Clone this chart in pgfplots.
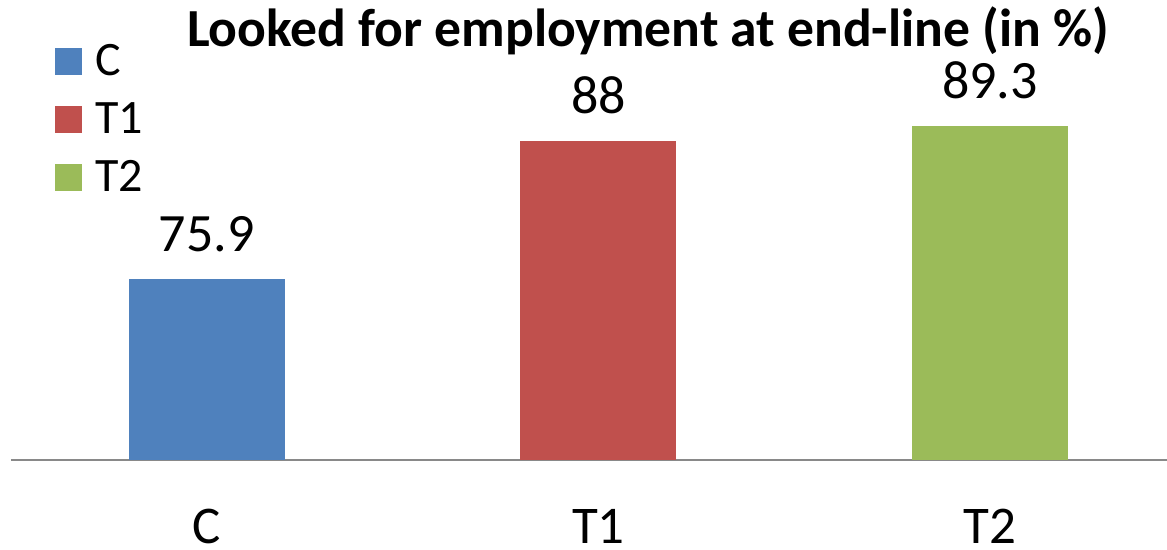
\documentclass[border=0pt]{standalone}
\usepackage{fontspec}
\setmainfont{Carlito}
\usepackage{pgfplots}
\pgfplotsset{compat=1.18}
\definecolor{cC}{HTML}{4F81BD}
\definecolor{cT}{HTML}{C0504D}
\definecolor{cU}{HTML}{9BBB59}
\definecolor{axgray}{HTML}{898989}
\begin{document}
\begin{tikzpicture}
\begin{axis}[
  at={(5.5pt,45pt)}, anchor=south west,
  scale only axis, width=578pt, height=228pt,
  xmin=-0.5, xmax=2.452, ymin=60, ymax=100,
  ybar, bar width=78pt, bar shift=0pt,
  axis y line=none,
  axis x line=bottom,
  x axis line style={-, draw=axgray, line width=1pt},
  xtick={0,1,2}, xticklabels={C,T1,T2},
  major tick length=0pt,
  xticklabel style={anchor=base, inner sep=0pt, yshift=-42pt, font=\fontsize{26.5}{26.5}\selectfont},
  nodes near coords,
  every node near coord/.append style={anchor=base, yshift=13.5pt, font=\fontsize{27}{27}\selectfont, text=black},
  point meta=explicit symbolic,
  legend image code/.code={\fill[#1, draw=none] (0pt,-6.75pt) rectangle (13.5pt,6.75pt);},
  legend style={at={(rel axis cs:0,1)}, anchor=north west, xshift=22pt, yshift=-21.5pt,
    draw=none, fill=none, inner sep=0pt, row sep=15pt, column sep=6.5pt,
    nodes={inner sep=0pt, text height=14pt, text depth=0pt},
    font=\fontsize{24}{24}\selectfont},
  legend cell align=left,
]
\addplot[fill=cC, draw=none] coordinates {(0,75.9) [75.9]};
\addplot[fill=cT, draw=none] coordinates {(1,88) [88]};
\addplot[fill=cU, draw=none] coordinates {(2,89.3) [89.3]};
\legend{C,T1,T2}
\end{axis}
\node[anchor=base, font=\bfseries\fontsize{26.8}{26.8}\selectfont] at (324pt,251.5pt) {Looked for employment at end-line (in \%)};
\pgfresetboundingbox
\path (0,0) rectangle (583.5pt,275pt);
\end{tikzpicture}
\end{document}
